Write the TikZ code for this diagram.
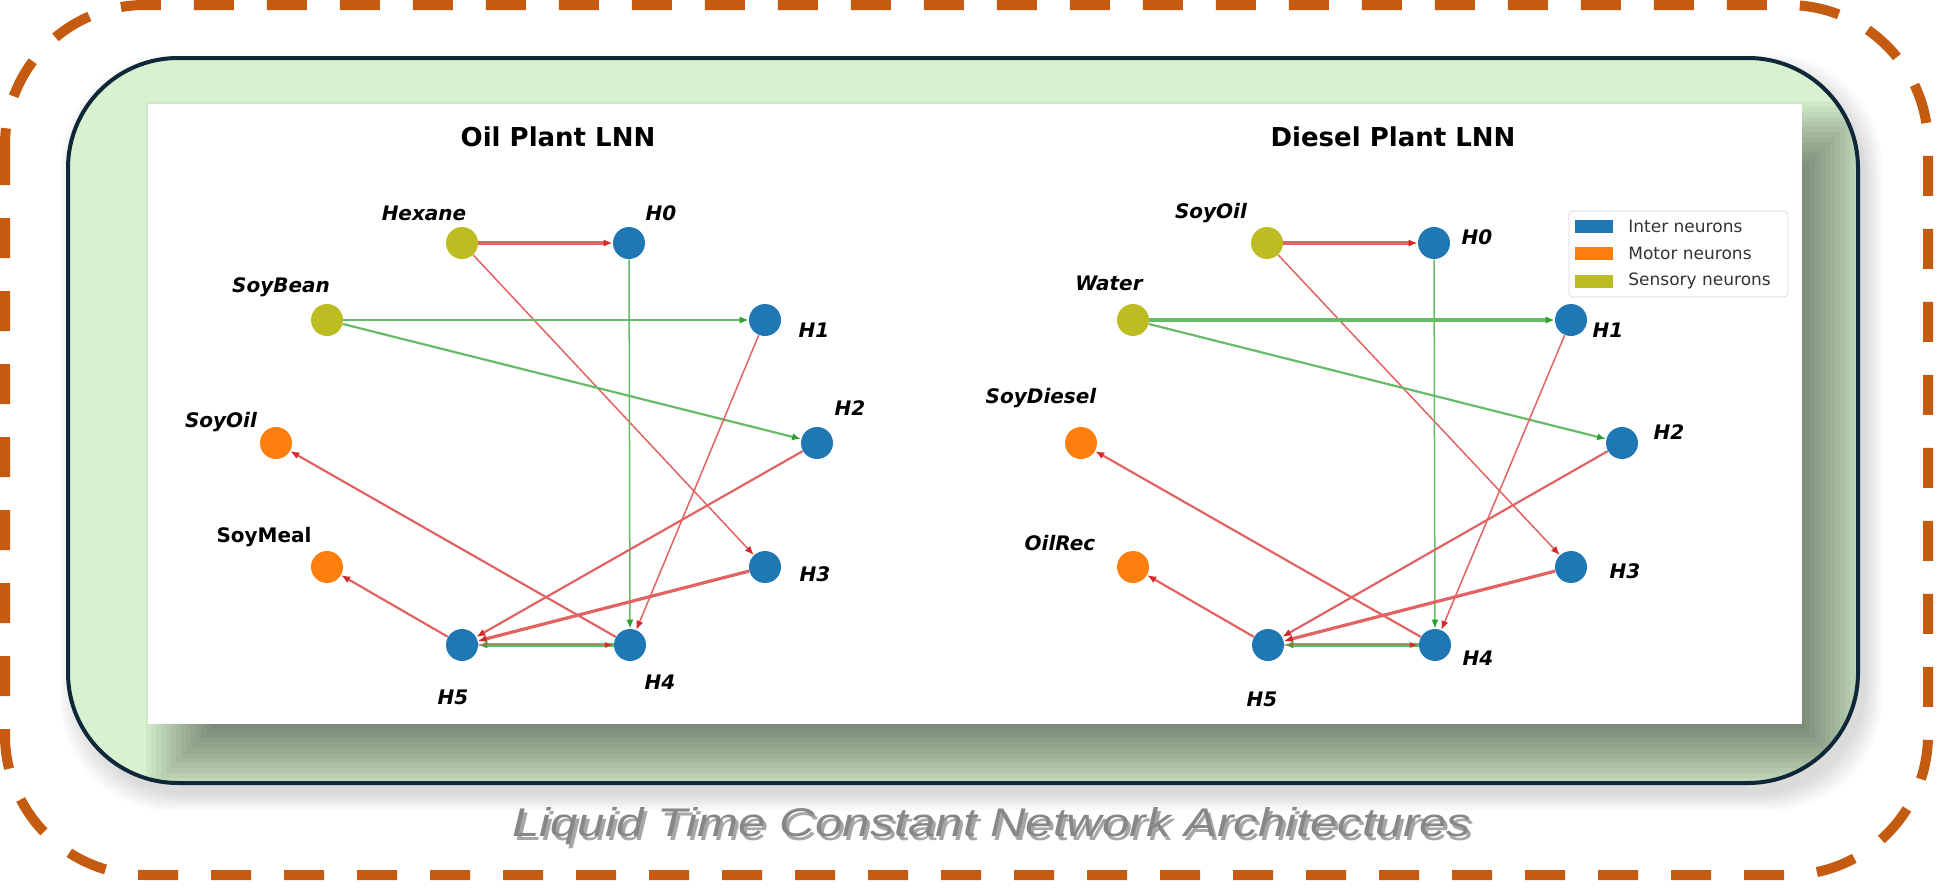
\documentclass[tikz,border=0pt]{standalone}
\usepackage{graphicx}
\usepackage{fontspec}
\setmainfont{DejaVu Sans}
\newfontfamily\capfont{Liberation Sans}
\usetikzlibrary{arrows.meta,calc}
\definecolor{dashor}{HTML}{C55A11}
\definecolor{panelgreen}{HTML}{D8F1D0}
\definecolor{navyb}{HTML}{0E2839}
\definecolor{inter}{HTML}{1F77B4}
\definecolor{motor}{HTML}{FF7F0E}
\definecolor{sensory}{HTML}{BCBD22}
\definecolor{ered}{HTML}{D62728}
\definecolor{egreen}{HTML}{2CA02C}
\colorlet{redl}{ered!72!white}
\colorlet{greenl}{egreen!72!white}
\begin{document}
\begin{tikzpicture}[x=0.5pt,y=-0.5pt,
  neuron/.style={circle,minimum size=16pt,inner sep=0pt,draw=none},
  interN/.style={neuron,fill=inter},
  motorN/.style={neuron,fill=motor},
  sensN/.style={neuron,fill=sensory},
  lab/.style={inner sep=0pt,font=\fontsize{10}{12}\selectfont\bfseries\itshape},
  labup/.style={inner sep=0pt,font=\fontsize{10}{12}\selectfont\bfseries},
  ttl/.style={inner sep=0pt,font=\fontsize{13}{15}\selectfont\bfseries},
  legtxt/.style={inner sep=0pt,anchor=west,text=black!80,font=\fontsize{8.5}{10}\selectfont},
  redge/.style={draw=redl,-{Latex[length=4.5pt,width=3.6pt,color=ered]}},
  gedge/.style={draw=greenl,-{Latex[length=4.5pt,width=3.6pt,color=egreen]}},
  wa/.style={line width=0.75pt},
  wb/.style={line width=1.1pt},
  wc/.style={line width=1.6pt}
]
\useasboundingbox (0,0) rectangle (1938,889);
\fill[white] (0,0) rectangle (1938,889);

% shadow of green panel
\foreach \d in {0,2,...,16}
  \fill[black,opacity=0.016,rounded corners=56pt] (76-\d,70-\d) rectangle (1866+\d,795+\d);

% green panel
\fill[panelgreen,rounded corners=55pt] (68,58) rectangle (1858,783);
\begin{scope}
  \clip[rounded corners=55pt] (68,58) rectangle (1858,783);
  \foreach \d in {-35,-30,...,35}
    \fill[black,opacity=0.037] (181-\d,137-\d) rectangle (1835+\d,758+\d);
\end{scope}
\draw[navyb,line width=2pt,rounded corners=55pt] (68,58) rectangle (1858,783);
\fill[white] (148,104) rectangle (1802,724);

% outer dashed frame
\draw[dashor,line width=5pt,dash pattern=on 20pt off 16.5pt,rounded corners=70pt] (5,5) rectangle (1928,875);

% titles
\node[ttl] (t1) at (558,137) {Oil Plant LNN};
\node[ttl] (t2) at (1393,137) {Diesel Plant LNN};

% ---------- left graph ----------
\node[sensN]  (Ls1) at (462,243) {};
\node[interN] (Lh0) at (629,243) {};
\node[sensN]  (Ls2) at (327,320) {};
\node[interN] (Lh1) at (765,320) {};
\node[motorN] (Lm1) at (276,443) {};
\node[interN] (Lh2) at (817,443) {};
\node[motorN] (Lm2) at (327,567) {};
\node[interN] (Lh3) at (765,567) {};
\node[interN] (Lh5) at (462,645) {};
\node[interN] (Lh4) at (630,645) {};

\node[lab]   (lLs1) at (424,213) {Hexane};
\node[lab]   (lLh0) at (661,213) {H0};
\node[lab]   (lLs2) at (281,287) {SoyBean};
\node[lab]   (lLh1) at (814,330) {H1};
\node[lab]   (lLm1) at (221,422) {SoyOil};
\node[lab]   (lLh2) at (850,408) {H2};
\node[labup] (lLm2) at (264,537) {SoyMeal};
\node[lab]   (lLh3) at (815,574) {H3};
\node[lab]   (lLh5) at (453,697) {H5};
\node[lab]   (lLh4) at (660,682) {H4};

\draw[redge,wc] (Ls1) -- (Lh0);
\draw[redge,wa] (Ls1) -- (Lh3);
\draw[gedge,wb] (Ls2) -- (Lh1);
\draw[gedge,wb] (Ls2) -- (Lh2);
\draw[gedge,wa] (Lh0) -- (Lh4);
\draw[redge,wa] (Lh1) -- (Lh4);
\draw[redge,wb] (Lh2) -- (Lh5);
\draw[redge,wc] (Lh3) -- (Lh5);
\draw[redge,wb] (Lh4) -- (Lm1);
\draw[redge,wb] (Lh5) -- (Lm2);
\draw[gedge,wc] (Lh4) -- (Lh5);
\draw[redge,wa,draw opacity=0.55] (Lh5) -- (Lh4);

% ---------- right graph ----------
\node[sensN]  (Rs1) at (1267,243) {};
\node[interN] (Rh0) at (1434,243) {};
\node[sensN]  (Rs2) at (1133,320) {};
\node[interN] (Rh1) at (1571,320) {};
\node[motorN] (Rm1) at (1081,443) {};
\node[interN] (Rh2) at (1622,443) {};
\node[motorN] (Rm2) at (1133,567) {};
\node[interN] (Rh3) at (1571,567) {};
\node[interN] (Rh5) at (1268,645) {};
\node[interN] (Rh4) at (1435,645) {};

\node[lab] (lRs1) at (1211,213) {SoyOil};
\node[lab] (lRh0) at (1477,237) {H0};
\node[lab] (lRs2) at (1109,283) {Water};
\node[lab] (lRh1) at (1608,330) {H1};
\node[lab] (lRm1) at (1041,398) {SoyDiesel};
\node[lab] (lRh2) at (1669,432) {H2};
\node[lab] (lRm2) at (1060,543) {OilRec};
\node[lab] (lRh3) at (1625,571) {H3};
\node[lab] (lRh5) at (1262,699) {H5};
\node[lab] (lRh4) at (1478,658) {H4};

\draw[redge,wc] (Rs1) -- (Rh0);
\draw[redge,wa] (Rs1) -- (Rh3);
\draw[gedge,wc] (Rs2) -- (Rh1);
\draw[gedge,wb] (Rs2) -- (Rh2);
\draw[gedge,wa] (Rh0) -- (Rh4);
\draw[redge,wa] (Rh1) -- (Rh4);
\draw[redge,wb] (Rh2) -- (Rh5);
\draw[redge,wc] (Rh3) -- (Rh5);
\draw[redge,wb] (Rh4) -- (Rm1);
\draw[redge,wb] (Rh5) -- (Rm2);
\draw[gedge,wc] (Rh4) -- (Rh5);
\draw[redge,wa,draw opacity=0.55] (Rh5) -- (Rh4);

% legend
\draw[black!15,fill=white,rounded corners=2pt] (1569,211) rectangle (1788,297);
\fill[inter]   (1575,220) rectangle (1613,233);
\fill[motor]   (1575,247) rectangle (1613,260);
\fill[sensory] (1575,275) rectangle (1613,288);
\node[legtxt] (lg1) at (1628,226) {Inter neurons};
\node[legtxt] (lg2) at (1628,253) {Motor neurons};
\node[legtxt] (lg3) at (1628,281) {Sensory neurons};

% caption with soft shadow
\node[anchor=base,inner sep=0pt,text=black,opacity=0.35] (capshadow) at (995,840)
    {\capfont\fontsize{20}{24}\selectfont\itshape\scalebox{1.23}[1]{Liquid Time Constant Network Architectures}};
\node[anchor=base,inner sep=0pt,text=black!47] (cap) at (992,836)
    {\capfont\fontsize{20}{24}\selectfont\itshape\scalebox{1.23}[1]{Liquid Time Constant Network Architectures}};
\end{tikzpicture}
\end{document}
